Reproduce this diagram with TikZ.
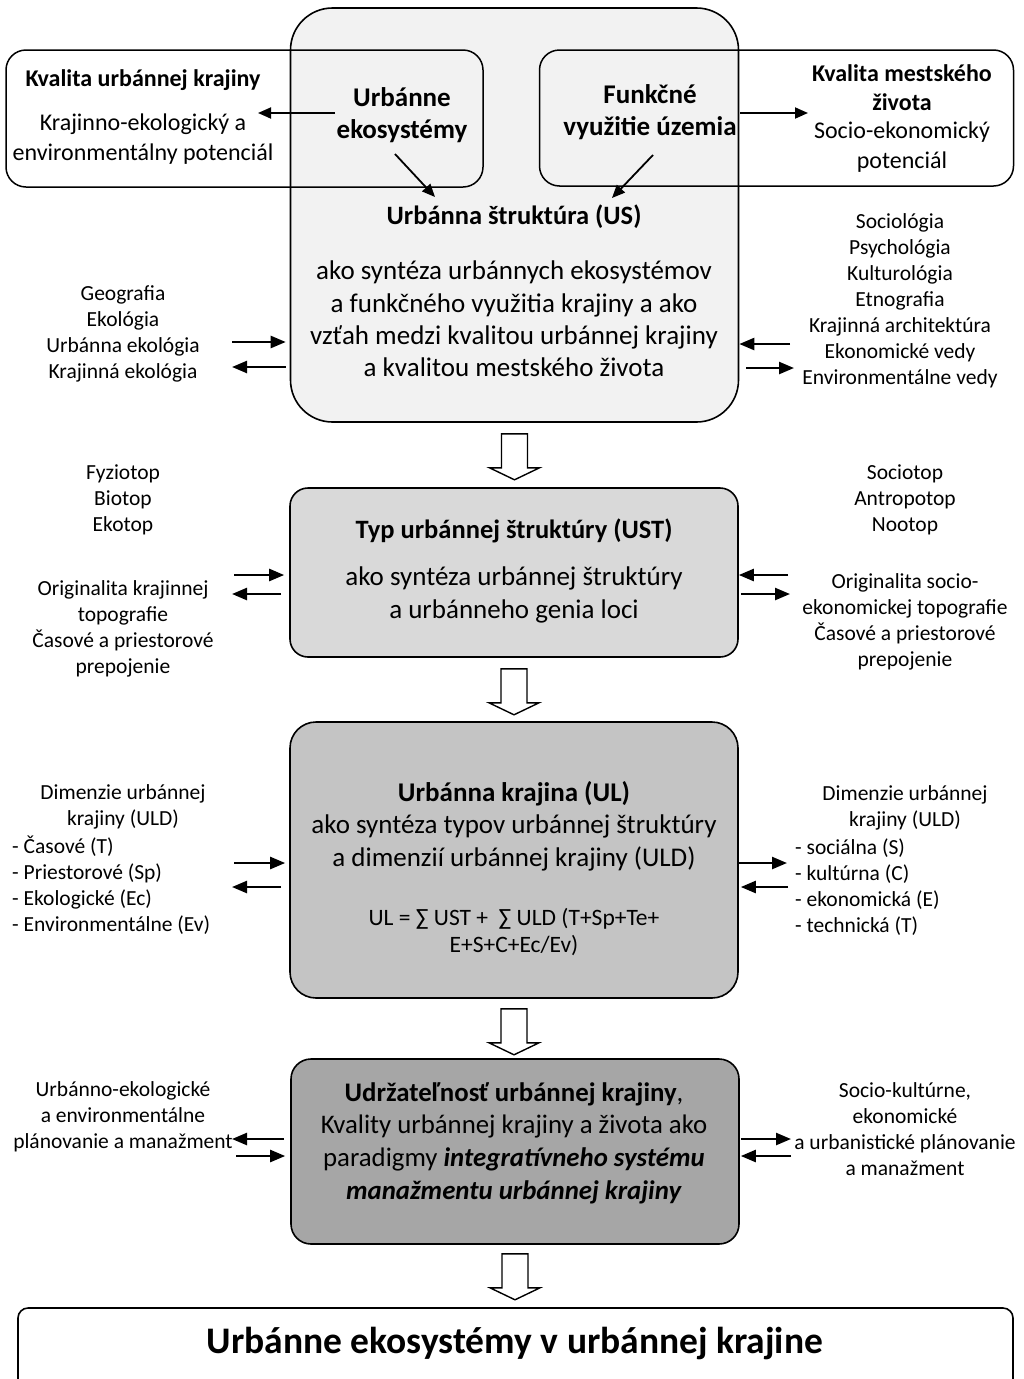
\documentclass[tikz,border=0pt]{standalone}
\usepackage{fontspec}
\setmainfont{Carlito}
\usetikzlibrary{arrows.meta}

\definecolor{usfill}{HTML}{F2F2F2}
\definecolor{ustfill}{HTML}{D9D9D9}
\definecolor{ulfill}{HTML}{C4C4C4}
\definecolor{susfill}{HTML}{A6A6A6}

\tikzset{
  box/.style={draw=black, line width=1.6pt, inner sep=0pt, minimum width=448pt},
  frame/.style={draw=black, line width=1.5pt, inner sep=0pt, rounded corners=20pt},
  sidetext/.style={font=\fontsize{21.5}{26}\selectfont, align=center, inner sep=0pt},
  sidelist/.style={font=\fontsize{21.5}{26}\selectfont, align=left, inner sep=0pt, anchor=west},
  bodytext/.style={font=\fontsize{27}{32.3}\selectfont, align=center, inner sep=0pt},
  headtext/.style={font=\bfseries\fontsize{26.5}{32}\selectfont, align=center, inner sep=0pt},
  toptext/.style={font=\fontsize{24}{29.5}\selectfont, align=center, inner sep=0pt},
  topbold/.style={font=\bfseries\fontsize{24}{29}\selectfont, align=center, inner sep=0pt},
  sarrow/.style={line width=2.4pt, -{Triangle[length=15pt,width=12pt]}},
  darrow/.style={line width=1.8pt, -{Triangle[length=13pt,width=11pt]}},
  hollowdown/.pic={
    \draw[line width=1.4pt, fill=white, line join=miter]
      (-13,0) -- (13,0) -- (13,34) -- (25,34) -- (0,46) -- (-25,34) -- (-13,34) -- cycle;
  }
}

\begin{document}
\begin{tikzpicture}[x=1pt,y=-1pt]
\useasboundingbox (0,0) rectangle (1024,1379);
\clip (0,0) rectangle (1024,1379);

% ---------- main boxes ----------
\node[box, fill=usfill, rounded corners=42pt, minimum height=414pt] (us) at (514.5,215) {};
\node[box, fill=ustfill, rounded corners=18pt, minimum height=169pt] (ust) at (514,572.5) {};
\node[box, fill=ulfill, rounded corners=26pt, minimum height=276pt] (ul) at (514,860) {};
\node[box, fill=susfill, rounded corners=20pt, minimum height=185pt] (sus) at (515,1151.5) {};
\node[draw=black, line width=1.6pt, inner sep=0pt, rounded corners=10pt,
      minimum width=995pt, minimum height=120pt] (fin) at (515.5,1368) {};

% ---------- upper frames overlapping the US box ----------
\node[frame, minimum width=477pt, minimum height=137pt] (kukbox) at (244.5,118.5) {};
\node[frame, minimum width=474pt, minimum height=136pt] (kmsbox) at (776.5,118) {};

% ---------- texts of the upper part ----------
\node[headtext, font=\bfseries\fontsize{27}{32}\selectfont] (ue) at (402,115) {Urbánne\\ekosystémy};
\node[headtext, font=\bfseries\fontsize{27}{32}\selectfont] (fv) at (650,112) {Funkčné\\využitie územia};
\node[topbold] (kukt) at (143,80) {Kvalita urbánnej krajiny};
\node[toptext] (kuks) at (143,139) {Krajinno-ekologický a\\environmentálny potenciál};
\node[topbold] (kmst) at (902,88) {Kvalita mestského\\života};
\node[toptext] (kmss) at (902,147) {Socio-ekonomický\\potenciál};

\node[headtext] (ust1) at (514,217) {Urbánna štruktúra (US)};
\node[bodytext] (usb) at (514,319) {ako syntéza urbánnych ekosystémov\\a funkčného využitia krajiny a ako\\vzťah medzi kvalitou urbánnej krajiny\\a kvalitou mestského života};

\coordinate (ueA) at (335,113);
\coordinate (ueB) at (258,113);
\coordinate (fvA) at (740,113);
\coordinate (fvB) at (808,113);
\coordinate (ueC) at (395,154);
\coordinate (ueD) at (435,197);
\coordinate (fvC) at (653,155);
\coordinate (fvD) at (612,198);
\draw[darrow] (ueA) -- (ueB);
\draw[darrow] (fvA) -- (fvB);
\draw[darrow] (ueC) -- (ueD);
\draw[darrow] (fvC) -- (fvD);

\node[sidetext] (lsci) at (123,334) {Geografia\\Ekológia\\Urbánna ekológia\\Krajinná ekológia};
\node[sidetext] (rsci) at (900,301) {Sociológia\\Psychológia\\Kulturológia\\Etnografia\\Krajinná architektúra\\Ekonomické vedy\\Environmentálne vedy};

% ---------- UST ----------
\node[headtext] (ustt) at (514,531) {Typ urbánnej štruktúry (UST)};
\node[bodytext] (ustb) at (514,595) {ako syntéza urbánnej štruktúry\\a urbánneho genia loci};
\node[sidetext] (ltop) at (123,500) {Fyziotop\\Biotop\\Ekotop};
\node[sidetext] (lorig) at (123,629) {Originalita krajinnej\\topografie\\Časové a priestorové\\prepojenie};
\node[sidetext] (rtop) at (905,500) {Sociotop\\Antropotop\\Nootop};
\node[sidetext] (rorig) at (905,622) {Originalita socio-\\ekonomickej topografie\\Časové a priestorové\\prepojenie};

% ---------- UL ----------
\node[bodytext] (ulb) at (514,826) {\textbf{Urbánna krajina (UL)}\\ako syntéza typov urbánnej štruktúry\\a dimenzií urbánnej krajiny (ULD)};
\node[sidetext, font=\fontsize{23.5}{27}\selectfont] (ulf) at (514,932) {UL = ∑ UST + \ ∑ ULD (T+Sp+Te+\\E+S+C+Ec/Ev)};
\node[sidetext] (ldimh) at (123,807) {Dimenzie urbánnej\\krajiny (ULD)};
\node[sidelist] (ldim) at (12,885) {- Časové (T)\\- Priestorové (Sp)\\- Ekologické (Ec)\\- Environmentálne (Ev)};
\node[sidetext] (rdimh) at (905,808) {Dimenzie urbánnej\\krajiny (ULD)};
\node[sidelist] (rdim) at (795,887) {- sociálna (S)\\- kultúrna (C)\\- ekonomická (E)\\- technická (T)};

% ---------- sustainability ----------
\node[bodytext, font=\fontsize{26.8}{32.7}\selectfont] (susb) at (514,1143) {\textbf{Udržateľnosť urbánnej krajiny},\\Kvality urbánnej krajiny a života ako\\paradigmy \textbf{\textit{integratívneho systému}}\\\textbf{\textit{manažmentu urbánnej krajiny}}};
\node[sidetext] (lplan) at (123,1117) {Urbánno-ekologické\\a environmentálne\\plánovanie a manažment};
\node[sidetext] (rplan) at (905,1129) {Socio-kultúrne,\\ekonomické\\a urbanistické plánovanie\\a manažment};

% ---------- final box text ----------
\node[inner sep=0pt, font=\bfseries\fontsize{37.5}{40}\selectfont] (fint) at (515,1343) {Urbánne ekosystémy v urbánnej krajine};

% ---------- side double arrows ----------
\coordinate (a1) at (232,342);  \coordinate (a2) at (232,367);
\coordinate (b1) at (792,344);  \coordinate (b2) at (794,368);
\draw[sarrow, shorten >=4pt] (a1) -- (a1 -| us.west);
\draw[sarrow, shorten <=4pt] (a2 -| us.west) -- (a2);
\draw[sarrow, shorten <=2pt] (b1) -- (b1 -| us.east);
\draw[sarrow, shorten <=7pt] (b2 -| us.east) -- (b2);

\coordinate (c1) at (234,575);  \coordinate (c2) at (232,594);
\coordinate (d1) at (788,575);  \coordinate (d2) at (790,594);
\draw[sarrow, shorten >=5pt] (c1) -- (c1 -| ust.west);
\draw[sarrow, shorten <=8pt] (c2 -| ust.west) -- (c2);
\draw[sarrow] (d1) -- (d1 -| ust.east);
\draw[sarrow, shorten <=2pt] (d2 -| ust.east) -- (d2);

\coordinate (e1) at (234,863);  \coordinate (e2) at (232,887);
\coordinate (f1) at (787,863);  \coordinate (f2) at (788,887);
\draw[sarrow, shorten >=4pt] (e1) -- (e1 -| ul.west);
\draw[sarrow, shorten <=8pt] (e2 -| ul.west) -- (e2);
\draw[sarrow] (f1 -| ul.east) -- (f1);
\draw[sarrow, shorten >=2pt] (f2) -- (f2 -| ul.east);

\coordinate (g1) at (232,1139);  \coordinate (g2) at (236,1156);
\coordinate (h1) at (791,1139);  \coordinate (h2) at (791,1156);
\draw[sarrow, shorten <=6pt] (g1 -| sus.west) -- (g1);
\draw[sarrow, shorten >=5pt] (g2) -- (g2 -| sus.west);
\draw[sarrow, shorten <=1pt] (h1 -| sus.east) -- (h1);
\draw[sarrow, shorten >=1pt] (h2) -- (h2 -| sus.east);

% ---------- hollow transition arrows ----------
\pic at ([yshift=-11pt]us.south) {hollowdown};
\pic at ([yshift=-11pt]ust.south) {hollowdown};
\pic at ([yshift=-10pt]ul.south) {hollowdown};
\pic at ([yshift=-9pt]sus.south) {hollowdown};
\end{tikzpicture}
\end{document}
